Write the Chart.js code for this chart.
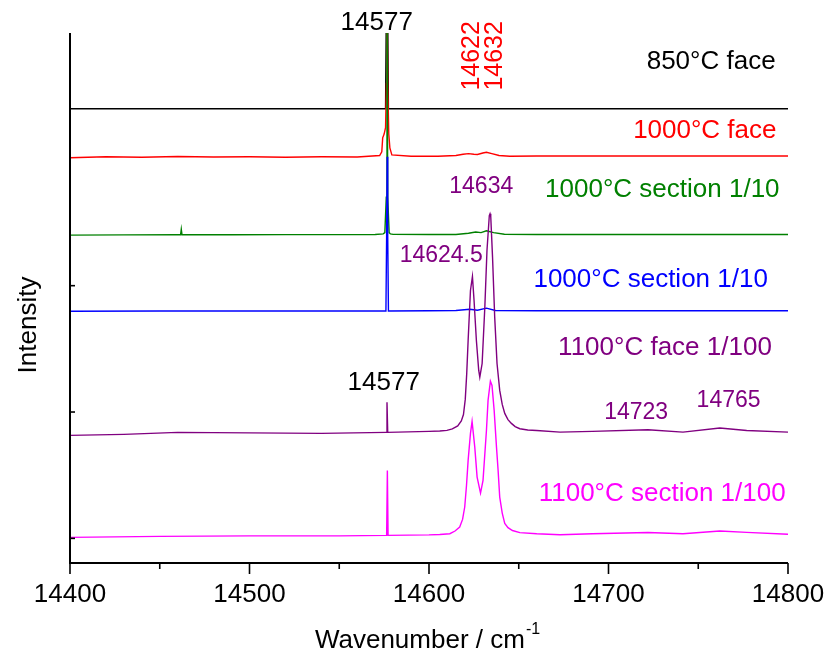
<!DOCTYPE html>
<html>
<head>
<meta charset="utf-8">
<script src="https://cdn.jsdelivr.net/npm/chart.js@4.4.0/dist/chart.umd.min.js"></script>
<style>
  html, body { margin: 0; padding: 0; background: #fff; }
</style>
</head>
<body>
<canvas id="spectra" width="827" height="654"></canvas>
<script>
// axis ticks (wavenumber / cm-1, intensity offset units)
const xTicks = [14400, 14500, 14600, 14700, 14800]
const xMinorTicks = [14450, 14550, 14650, 14750]
const yTicks = [0, 1, 2]

// 850°C face
const face850X = [14400, 14450, 14500, 14550, 14575.8, 14576.3, 14576.6, 14576.9, 14577.4, 14620, 14700, 14800]
const face850Y = [3.40, 3.40, 3.40, 3.40, 3.40, 4.3, 4.6, 4.3, 3.40, 3.40, 3.40, 3.40]

// 1000°C face
const face1000X = [14400, 14420, 14440, 14460, 14480, 14500, 14520, 14540, 14560, 14572.5, 14573.7, 14574.2, 14575.0, 14575.8, 14576.3, 14576.6, 14577.0, 14577.6, 14578.2, 14579.3, 14590, 14605, 14615, 14619, 14622, 14625, 14627, 14630, 14632, 14635, 14639, 14645, 14660, 14700, 14740, 14770, 14800]
const face1000Y = [3.012, 3.020, 3.016, 3.022, 3.018, 3.020, 3.016, 3.020, 3.018, 3.030, 3.060, 3.170, 3.200, 3.250, 3.600, 4.500, 3.600, 3.200, 3.090, 3.035, 3.025, 3.025, 3.030, 3.040, 3.045, 3.040, 3.038, 3.050, 3.056, 3.045, 3.030, 3.025, 3.026, 3.026, 3.026, 3.026, 3.026]

// 1000°C section 1/10 (green)
const sect1000aX = [14400, 14430, 14460, 14461.6, 14462.0, 14462.4, 14490, 14520, 14550, 14570, 14574.5, 14575.4, 14576.2, 14576.6, 14577.0, 14577.8, 14578.5, 14580, 14600, 14615, 14622, 14626, 14629, 14632, 14636, 14642, 14660, 14700, 14750, 14800]
const sect1000aY = [2.400, 2.402, 2.403, 2.403, 2.447, 2.403, 2.403, 2.404, 2.404, 2.405, 2.410, 2.420, 2.700, 4.600, 2.700, 2.420, 2.410, 2.406, 2.405, 2.405, 2.415, 2.425, 2.420, 2.435, 2.420, 2.407, 2.405, 2.405, 2.405, 2.405]

// 1000°C section 1/10 (blue)
const sect1000bX = [14400, 14450, 14500, 14550, 14576.0, 14576.4, 14576.7, 14577.0, 14577.4, 14600, 14615, 14622.7, 14627, 14632, 14637, 14660, 14700, 14750, 14800]
const sect1000bY = [1.798, 1.800, 1.800, 1.800, 1.800, 2.400, 3.020, 2.400, 1.800, 1.802, 1.804, 1.814, 1.806, 1.822, 1.804, 1.802, 1.802, 1.802, 1.802]

// 1100°C face 1/100
const face1100X = [14400, 14430, 14460, 14500, 14540, 14576.2, 14576.6, 14577.0, 14600, 14606, 14610, 14613, 14616, 14618, 14619.2, 14620.2, 14621.0, 14621.8, 14623.1, 14624.2, 14625.1, 14626.4, 14627.7, 14628.3, 14629.6, 14631.1, 14632.3, 14633.6, 14634.0, 14634.4, 14635.4, 14636.6, 14637.9, 14639.4, 14640.8, 14642.2, 14644.0, 14645.9, 14648.0, 14650.6, 14655, 14660, 14673, 14691, 14722, 14741.5, 14762, 14777, 14800]
const face1100Y = [0.815, 0.823, 0.839, 0.835, 0.831, 0.839, 1.078, 0.839, 0.847, 0.850, 0.855, 0.866, 0.890, 0.930, 0.980, 1.100, 1.300, 1.566, 1.962, 2.073, 1.883, 1.566, 1.329, 1.276, 1.384, 1.830, 2.278, 2.555, 2.569, 2.547, 2.225, 1.751, 1.384, 1.171, 1.060, 0.989, 0.940, 0.910, 0.885, 0.868, 0.858, 0.854, 0.841, 0.847, 0.860, 0.841, 0.873, 0.854, 0.841]

// 1100°C section 1/100
const sect1100X = [14400, 14450, 14500, 14550, 14576.4, 14576.8, 14577.2, 14600, 14606, 14611.6, 14614.5, 14617.1, 14618.7, 14619.9, 14620.9, 14621.8, 14623.1, 14624.0, 14625.5, 14626.8, 14628.7, 14630.1, 14632.0, 14632.9, 14634.2, 14635.1, 14636.3, 14637.6, 14638.5, 14639.4, 14640.8, 14642.2, 14644.0, 14646.5, 14650.6, 14660, 14673, 14691, 14722, 14741.5, 14762, 14777, 14800]
const sect1100Y = [0.008, 0.016, 0.020, 0.020, 0.024, 0.538, 0.024, 0.028, 0.031, 0.037, 0.058, 0.089, 0.150, 0.248, 0.420, 0.617, 0.831, 0.926, 0.722, 0.485, 0.358, 0.459, 0.854, 1.092, 1.244, 1.210, 1.013, 0.722, 0.538, 0.327, 0.200, 0.119, 0.085, 0.062, 0.045, 0.036, 0.029, 0.036, 0.047, 0.037, 0.058, 0.047, 0.032]

const seriesNames = ['850°C face', '1000°C face', '1000°C section 1/10', '1000°C section 1/10', '1100°C face 1/100', '1100°C section 1/100']
const seriesColors = ['#000000', '#ff0000', '#008000', '#0000ff', '#800080', '#ff00ff']
const seriesX = [face850X, face1000X, sect1000aX, sect1000bX, face1100X, sect1100X]
const seriesY = [face850Y, face1000Y, sect1000aY, sect1000bY, face1100Y, sect1100Y]

// where each series name sits (right edge, baseline) in data units
const nameAnchorX = [14793.1, 14793.6, 14795.3, 14788.8, 14791.0, 14798.7]
const nameAnchorY = [3.718, 3.165, 2.698, 1.986, 1.448, 0.293]

// peak labels
const peakNotes = [
  { text: '14577', x: 14570.9, y: 4.027, color: '#000000', size: 26 },
  { text: '14577', x: 14574.8, y: 1.171, color: '#000000', size: 26 },
  { text: '14634', x: 14629.1, y: 2.737, color: '#800080', size: 23 },
  { text: '14624.5', x: 14606.8, y: 2.184, color: '#800080', size: 23 },
  { text: '14723', x: 14715.4, y: 0.941, color: '#800080', size: 23 },
  { text: '14765', x: 14766.9, y: 1.036, color: '#800080', size: 23 }
]
const verticalNotes = [
  { text: '14622', x: 14628.0, y: 3.544, color: '#ff0000', size: 25 },
  { text: '14632', x: 14640.6, y: 3.544, color: '#ff0000', size: 25 }
]

const FONT = '"Liberation Sans", Arial, sans-serif'

const datasets = seriesNames.map((name, i) => ({
  label: name,
  data: seriesX[i].map((x, j) => ({ x: x, y: seriesY[i][j] })),
  borderColor: seriesColors[i],
  borderWidth: 1.4,
  pointRadius: 0,
  showLine: true,
  tension: 0,
  order: 6 - i
}))

const overlay = {
  id: 'overlay',
  afterDatasetsDraw(chart) {
    const { ctx, chartArea } = chart
    const xs = chart.scales.x
    const ys = chart.scales.y
    ctx.save()
    ctx.strokeStyle = '#000'
    ctx.lineWidth = 2
    ctx.beginPath()
    ctx.moveTo(chartArea.left, chartArea.top)
    ctx.lineTo(chartArea.left, chartArea.bottom)
    ctx.lineTo(chartArea.right, chartArea.bottom)
    ctx.stroke()

    ctx.lineWidth = 1.6
    xTicks.forEach(t => {
      const px = xs.getPixelForValue(t)
      ctx.beginPath()
      ctx.moveTo(px, chartArea.bottom)
      ctx.lineTo(px, chartArea.bottom + 11)
      ctx.stroke()
    })
    xMinorTicks.forEach(t => {
      const px = xs.getPixelForValue(t)
      ctx.beginPath()
      ctx.moveTo(px, chartArea.bottom)
      ctx.lineTo(px, chartArea.bottom + 6)
      ctx.stroke()
    })
    yTicks.forEach(t => {
      const py = ys.getPixelForValue(t)
      ctx.beginPath()
      ctx.moveTo(chartArea.left, py)
      ctx.lineTo(chartArea.left + 5, py)
      ctx.stroke()
    })

    ctx.fillStyle = '#000'
    ctx.font = '26px ' + FONT
    ctx.textAlign = 'center'
    ctx.textBaseline = 'alphabetic'
    xTicks.forEach(t => {
      ctx.fillText(String(t), xs.getPixelForValue(t), 602)
    })

    // axis titles
    const main = 'Wavenumber / cm'
    const mainW = ctx.measureText(main).width
    ctx.font = '16px ' + FONT
    const supW = ctx.measureText('-1').width
    const startX = (chartArea.left + chartArea.right) / 2 - (mainW + supW) / 2 - 2
    ctx.font = '26px ' + FONT
    ctx.textAlign = 'left'
    ctx.fillText(main, startX, 648)
    ctx.font = '16px ' + FONT
    ctx.fillText('-1', startX + mainW + 1, 634)

    ctx.save()
    ctx.translate(36, 325)
    ctx.rotate(-Math.PI / 2)
    ctx.font = '26px ' + FONT
    ctx.textAlign = 'center'
    ctx.fillText('Intensity', 0, 0)
    ctx.restore()

    // series names
    ctx.textAlign = 'right'
    ctx.font = '26px ' + FONT
    seriesNames.forEach((name, i) => {
      ctx.fillStyle = seriesColors[i]
      ctx.fillText(name, xs.getPixelForValue(nameAnchorX[i]), ys.getPixelForValue(nameAnchorY[i]))
    })

    ctx.textAlign = 'center'
    peakNotes.forEach(n => {
      ctx.fillStyle = n.color
      ctx.font = n.size + 'px ' + FONT
      ctx.fillText(n.text, xs.getPixelForValue(n.x), ys.getPixelForValue(n.y))
    })

    verticalNotes.forEach(n => {
      ctx.save()
      ctx.translate(xs.getPixelForValue(n.x), ys.getPixelForValue(n.y))
      ctx.rotate(-Math.PI / 2)
      ctx.fillStyle = n.color
      ctx.font = n.size + 'px ' + FONT
      ctx.textAlign = 'left'
      ctx.fillText(n.text, 0, 0)
      ctx.restore()
    })
    ctx.restore()
  }
}

new Chart(document.getElementById('spectra'), {
  type: 'scatter',
  data: { datasets: datasets },
  options: {
    responsive: false,
    animation: false,
    devicePixelRatio: 1,
    layout: { padding: { left: 70, right: 39, top: 33, bottom: 91 } },
    plugins: {
      legend: { display: false },
      tooltip: { enabled: false }
    },
    scales: {
      x: { type: 'linear', min: 14400, max: 14800, display: false },
      y: { type: 'linear', min: -0.195, max: 4.0, display: false }
    }
  },
  plugins: [overlay]
})
</script>
</body>
</html>
